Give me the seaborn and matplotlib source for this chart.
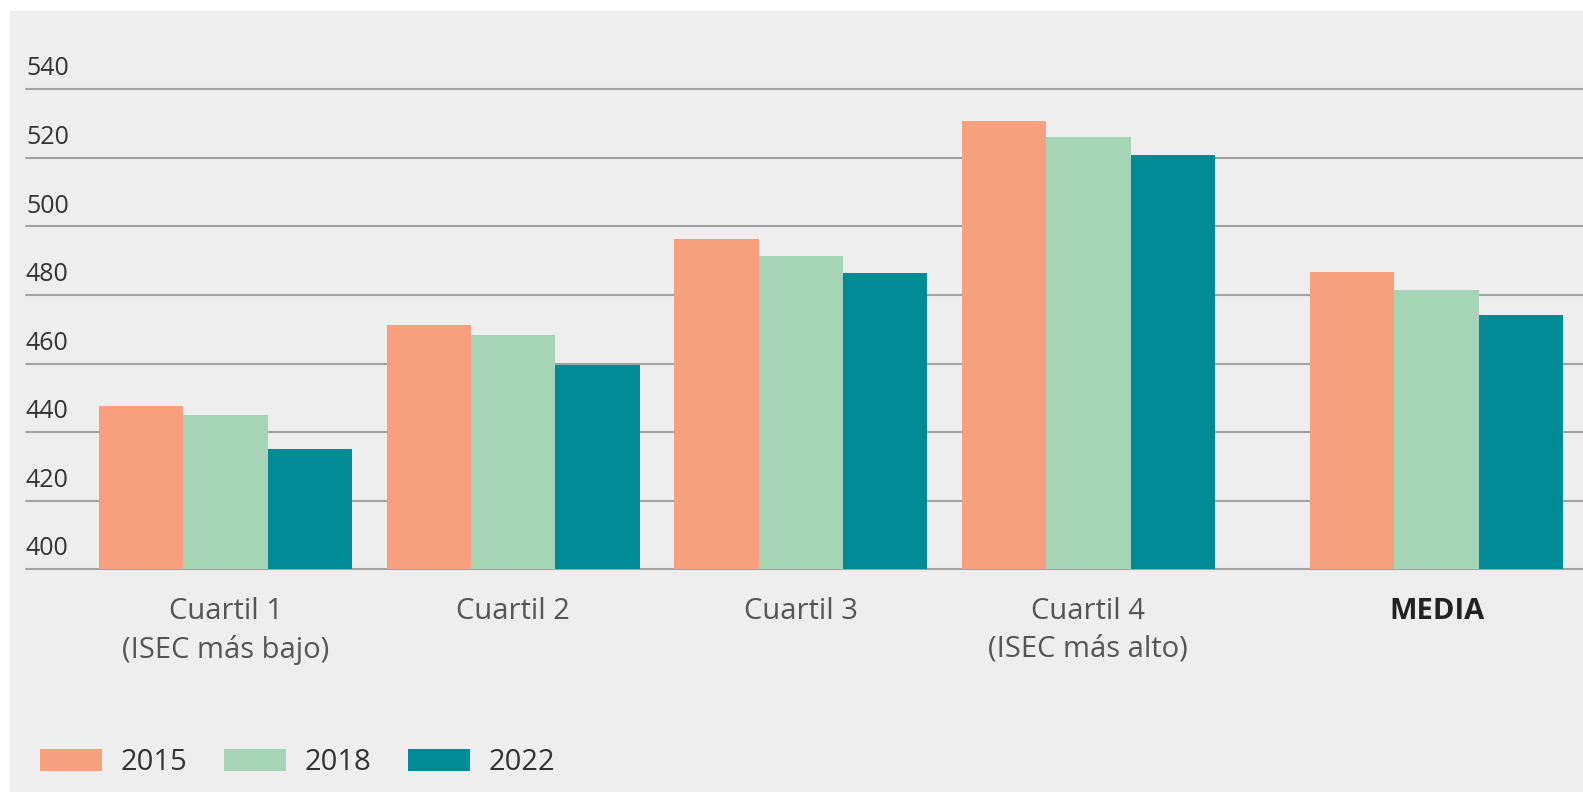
import matplotlib
matplotlib.use("Agg")
import matplotlib.pyplot as plt
import matplotlib.transforms as mtransforms
from matplotlib.patches import Rectangle
import seaborn as sns
import pandas as pd

# datos
grupos = ["Cuartil 1\n(ISEC más bajo)", "Cuartil 2", "Cuartil 3",
          "Cuartil 4\n(ISEC más alto)", "MEDIA"]
anios = ["2015", "2018", "2022"]
p2015 = [447.6, 471.4, 496.2, 530.8, 486.8]
p2018 = [444.9, 468.2, 491.5, 526.0, 481.4]
p2022 = [435.0, 459.7, 486.3, 520.8, 474.1]
yticks = [400, 420, 440, 460, 480, 500, 520, 540]

colores = ["#f7a07e", "#a5d4b7", "#008b96"]
fondo = "#eeeeee"
gris_linea = "#a3a3a3"

rows = []
for anio, vals in zip(anios, [p2015, p2018, p2022]):
    for g, v in zip(grupos, vals):
        rows.append({"grupo": g, "anio": anio, "puntaje": v})
df = pd.DataFrame(rows)

sns.set_style("white")
plt.rcParams["font.family"] = ["Open Sans", "DejaVu Sans"]

fig = plt.figure(figsize=(15.83, 7.92), dpi=100, facecolor="white")
# fondo gris con margen blanco arriba e izquierda
fig.patches.append(Rectangle((10 / 1583, 0), 1, 1 - 11 / 792,
                             transform=fig.transFigure, facecolor=fondo,
                             edgecolor="none", zorder=-10))

ax = fig.add_axes([26 / 1583, 1 - 569.3 / 792, 1 - 26 / 1583,
                   (569.3 - 72.2) / 792])
ax.set_facecolor(fondo)
ax.patch.set_alpha(0)

sns.barplot(data=df, x="grupo", y="puntaje", hue="anio", order=grupos,
            hue_order=anios, palette=colores, width=0.88, gap=0,
            linewidth=0, saturation=1, ax=ax)

# separar la barra MEDIA del resto
desplazamiento = 0.211
for p in ax.patches:
    if p.get_x() + p.get_width() / 2 > 3.5:
        p.set_x(p.get_x() + desplazamiento)

xpos = [0, 1, 2, 3, 4 + desplazamiento]
ax.set_xticks(xpos)
ax.set_xticklabels(grupos, fontsize=21, color="#555555", linespacing=1.4)
ax.get_xticklabels()[-1].set_fontweight("bold")
ax.get_xticklabels()[-1].set_color("#222222")
ax.tick_params(axis="x", length=0, pad=20)

ax.set_xlim(-0.6937, 4.720)
ax.set_ylim(400, 545)
ax.set_yticks(yticks)
ax.tick_params(axis="y", length=0, labelleft=False)
ax.yaxis.grid(True, color=gris_linea, linewidth=1.5)
ax.xaxis.grid(False)
ax.set_axisbelow(True)
for line in ax.get_ygridlines():
    line.set_clip_on(False)

trans = mtransforms.blended_transform_factory(ax.transAxes, ax.transData)
for t in yticks:
    ax.annotate(str(t), xy=(0, t), xycoords=trans, xytext=(0, 10),
                textcoords="offset points", ha="left", va="baseline",
                fontsize=18, color="#333333")

for s in ax.spines.values():
    s.set_visible(False)
ax.set_xlabel("")
ax.set_ylabel("")

sns.move_legend(ax, "center left", bbox_to_anchor=(40 / 1583, 0.037),
                bbox_transform=fig.transFigure, ncol=3, frameon=False,
                title=None, fontsize=21, handlelength=2.12, handleheight=0.79,
                handletextpad=0.65, columnspacing=1.25, borderpad=0,
                borderaxespad=0)
for t in ax.get_legend().get_texts():
    t.set_color("#333333")

fig.savefig("out.png", dpi=100, facecolor="white")
plt.close(fig)
